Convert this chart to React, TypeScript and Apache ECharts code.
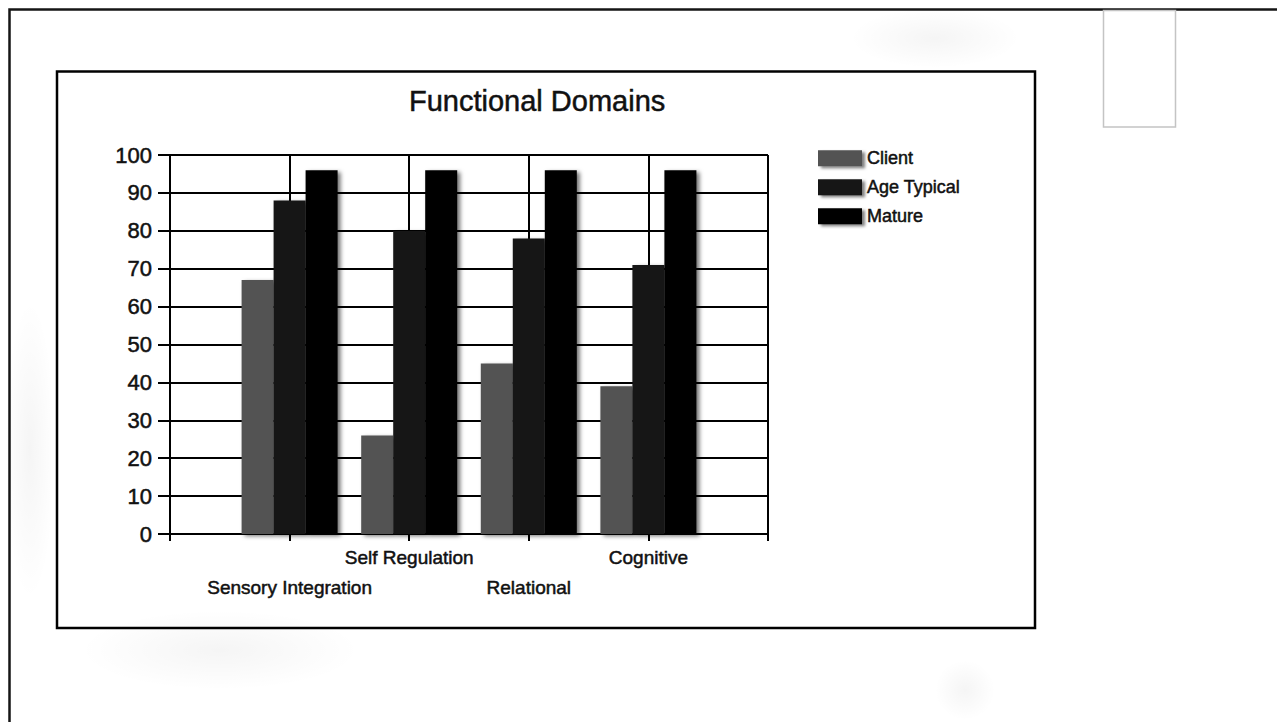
import React, { useEffect, useRef } from "react";
import * as echarts from "echarts";

// Domains along the x axis and the three comparison series
const domains = ["Sensory Integration", "Self Regulation", "Relational", "Cognitive"];
const clientScores = [67, 26, 45, 39];
const ageTypicalScores = [88, 80, 78, 71];
const matureScores = [96, 96, 96, 96];
const seriesNames = ["Client", "Age Typical", "Mature"];
const seriesColors = ["#525252", "#171717", "#000000"];
const yTicks = { min: 0, max: 100, interval: 10 };

const FONT = "'Liberation Sans', Arial, Helvetica, sans-serif";
// slightly heavier glyphs for all chart text
const INK = { color: "#111", textBorderColor: "#111", textBorderWidth: 0.5 };

// Empty slots at both ends so the domains sit on the inner grid lines
const pad = (arr: (number | string)[]) => [null, ...arr, null];

export default function App() {
  const ref = useRef<HTMLDivElement>(null);

  useEffect(() => {
    if (!ref.current) return;
    const chart = echarts.init(ref.current, null, { renderer: "svg" });

    const barShadow = {
      shadowColor: "rgba(0,0,0,0.55)",
      shadowBlur: 4,
      shadowOffsetX: 3,
      shadowOffsetY: 2,
    };

    const values = [clientScores, ageTypicalScores, matureScores];

    chart.setOption({
      animation: false,
      backgroundColor: "#ffffff",
      textStyle: { fontFamily: FONT },
      title: {
        text: "Functional Domains",
        left: 409,
        top: 86,
        padding: 0,
        textStyle: { fontFamily: FONT, fontSize: 29, fontWeight: "normal", ...INK },
      },
      legend: {
        orient: "vertical",
        left: 818,
        top: 149,
        padding: 0,
        itemWidth: 44,
        itemHeight: 16,
        itemGap: 10.5,
        icon: "rect",
        data: seriesNames,
        textStyle: { fontFamily: FONT, fontSize: 18, ...INK },
        itemStyle: { shadowColor: "rgba(0,0,0,0.5)", shadowBlur: 3, shadowOffsetX: 3, shadowOffsetY: 2 },
      },
      grid: { left: 170, right: 509, top: 155, bottom: 188, containLabel: false },
      xAxis: {
        type: "category",
        boundaryGap: false,
        data: ["", ...domains, ""],
        axisLine: { show: true, lineStyle: { color: "#000", width: 2 } },
        axisTick: { show: true, length: 7, interval: 0, lineStyle: { color: "#000", width: 2 } },
        splitLine: { show: true, interval: 0, lineStyle: { color: "#000", width: 2 } },
        axisLabel: {
          interval: 0,
          margin: 14,
          fontFamily: FONT,
          fontSize: 19,
          ...INK,
          formatter: (v: string, i: number) => {
            if (!v) return "";
            return i % 2 === 1 ? `{lo|${v}}` : `{hi|${v}}`;
          },
          rich: {
            hi: { fontFamily: FONT, fontSize: 19, ...INK },
            lo: { fontFamily: FONT, fontSize: 19, ...INK, padding: [30, 0, 0, 0] },
          },
        },
      },
      yAxis: {
        type: "value",
        min: yTicks.min,
        max: yTicks.max,
        interval: yTicks.interval,
        axisLine: { show: true, lineStyle: { color: "#000", width: 2 } },
        axisTick: { show: true, length: 12, lineStyle: { color: "#000", width: 2 } },
        splitLine: { show: true, lineStyle: { color: "#000", width: 2 } },
        axisLabel: { margin: 18, fontFamily: FONT, fontSize: 22, ...INK },
      },
      series: seriesNames.map((name, k) => ({
        name,
        type: "bar",
        data: pad(values[k]),
        barWidth: 32,
        barGap: "0%",
        itemStyle: { color: seriesColors[k], ...barShadow },
        z: 3 + k,
      })),
      graphic: [
        // faint smudges on the page
        ...[
          { cx: 935, cy: 38, rx: 85, ry: 30 },
          { cx: 965, cy: 690, rx: 30, ry: 30 },
          { cx: 30, cy: 450, rx: 25, ry: 150 },
          { cx: 220, cy: 650, rx: 140, ry: 40 },
        ].map((h) => ({
          type: "ellipse",
          z: -10,
          silent: true,
          shape: { cx: h.cx, cy: h.cy, rx: h.rx, ry: h.ry },
          style: {
            fill: new echarts.graphic.RadialGradient(0.5, 0.5, 0.5, [
              { offset: 0, color: "rgba(0,0,0,0.04)" },
              { offset: 1, color: "rgba(0,0,0,0)" },
            ]),
          },
        })),
        // outer page frame
        {
          type: "polyline",
          z: 10,
          silent: true,
          shape: { points: [[9.5, 722], [9.5, 9.5], [1277, 9.5]] },
          style: { stroke: "#151515", lineWidth: 2.5, fill: "none" },
        },
        // small empty box at the top right
        {
          type: "rect",
          z: 10,
          silent: true,
          shape: { x: 1103.5, y: 10.5, width: 72, height: 116.5 },
          style: { stroke: "#c4c4c4", lineWidth: 1.5, fill: "none" },
        },
        // chart border
        {
          type: "rect",
          z: 10,
          silent: true,
          shape: { x: 57, y: 71.5, width: 978, height: 556.5 },
          style: { stroke: "#000", lineWidth: 2.5, fill: "none" },
        },
      ],
    });

    return () => chart.dispose();
  }, []);

  return (
    <div
      ref={ref}
      style={{ position: "absolute", left: 0, top: 0, width: 1277, height: 722, background: "#fff" }}
    />
  );
}
